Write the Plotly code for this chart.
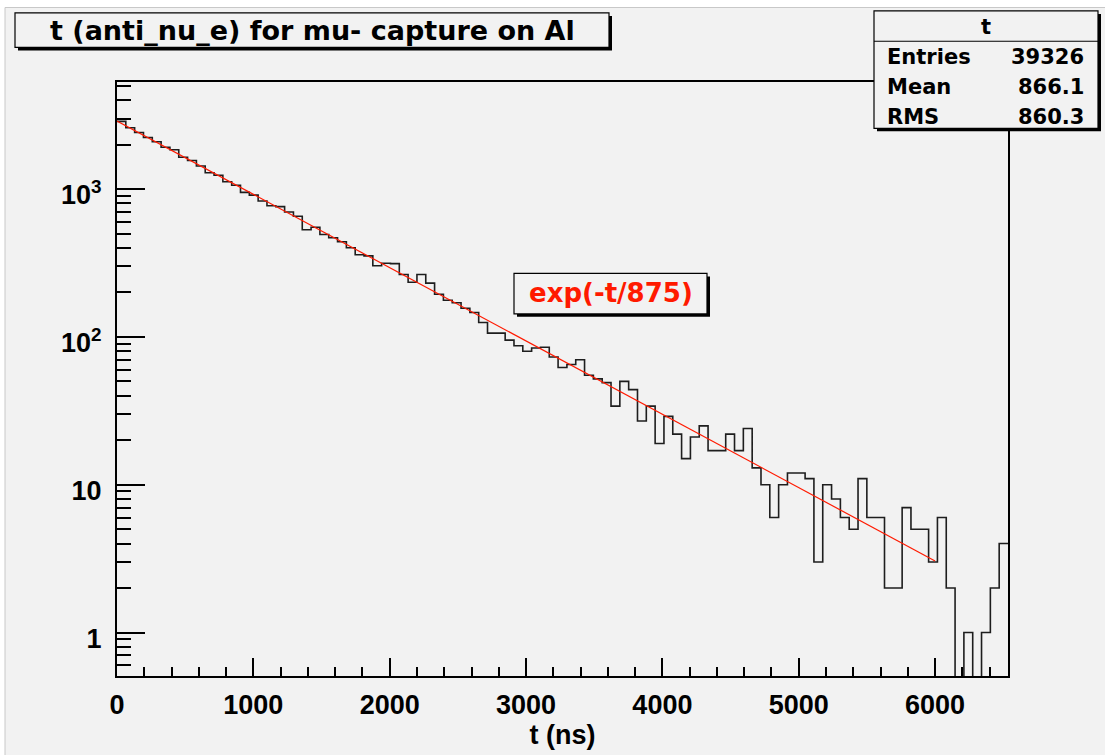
import plotly.graph_objects as go

# ---------------- data ----------------
BIN_WIDTH_NS = 64.7
counts = [2870, 2600, 2410, 2230, 2090, 1915, 1845, 1640, 1560, 1430,
          1290, 1240, 1120, 1060, 950, 910, 830, 770, 760, 700,
          655, 530, 552, 493, 468, 440, 401, 359, 353, 303,
          315, 313, 264, 234, 264, 231, 194, 177, 170, 156,
          146, 125, 106, 106, 95, 87, 80, 84, 85, 73,
          62, 65, 70, 55, 52, 49, 34, 50, 44, 27,
          34, 19, 29, 22, 15, 21, 25, 17, 17, 22,
          17, 24, 13, 10, 6, 10, 12, 12, 11, 3,
          10, 8, 6, 5, 11, 6, 6, 2, 2, 7,
          5, 5, 3, 6, 2, 0, 1, 0, 1, 2,
          4]
fit_t = [0, 6000]
fit_y = [2885, 3.05]

x_tick_vals = [0, 1000, 2000, 3000, 4000, 5000, 6000]
y_tick_vals = [1, 10, 100, 1000]
y_tick_text = ["1", "10", "10<sup>2</sup>", "10<sup>3</sup>"]

title_text = "t (anti_nu_e) for mu- capture on Al"
x_title = "t (ns)"
stats_title = "t"
stats_labels = ["Entries", "Mean", "RMS"]
stats_values = ["39326", "866.1", "860.3"]
fit_label = "exp(-t/875)"

# ---------------- geometry ----------------
W, H = 1105, 755
L, R, T, B = 117, 97, 82, 71
PW, PH = W - L - R, H - T - B


def px(x):
    return (x - L) / PW


def py(y):
    return (H - B - y) / PH


edges = [i * BIN_WIDTH_NS for i in range(len(counts) + 1)]
counts_plot = [c if c > 0 else 0.05 for c in counts]
step_y = counts_plot + [counts_plot[-1]]

minor_y = [v * 10 ** e for e in range(-1, 4) for v in range(2, 10)]
minor_y = [m for m in minor_y if 0.55 < m < 5300 and m not in (1, 10, 100, 1000)]

fig = go.Figure()
fig.add_trace(go.Scatter(x=edges, y=step_y, mode="lines", line_shape="hv",
                         line=dict(color="#1e1e1e", width=1.6),
                         hoverinfo="skip", showlegend=False))
fig.add_trace(go.Scatter(x=fit_t, y=fit_y, mode="lines",
                         line=dict(color="#ff1a00", width=1.2),
                         hoverinfo="skip", showlegend=False))

BOLD = dict(family="Liberation Sans, Arial, sans-serif", size=27, color="black", weight="bold")
PAVE = "DejaVu Sans, sans-serif"

fig.update_layout(
    width=W, height=H,
    margin=dict(l=L, r=R, t=T, b=B, pad=0),
    paper_bgcolor="#f2f2f2",
    plot_bgcolor="#f2f2f2",
    showlegend=False,
    xaxis=dict(range=[0, len(counts) * BIN_WIDTH_NS], showgrid=False, zeroline=False,
               showline=True, linecolor="black", linewidth=2, mirror=True,
               ticks="inside", ticklen=18, tickwidth=1.5, tickcolor="black",
               tickvals=x_tick_vals, ticktext=[str(v) for v in x_tick_vals],
               tickfont=BOLD, ticklabelstandoff=4,
               minor=dict(ticks="inside", ticklen=9, tickwidth=1.5, tickcolor="black", dtick=200),
               title=dict(text=x_title, font=BOLD, standoff=4)),
    yaxis=dict(type="log", range=[-0.294, 3.724], showgrid=False, zeroline=False,
               showline=True, linecolor="black", linewidth=2, mirror=True,
               ticks="inside", ticklen=28, tickwidth=1.5, tickcolor="black",
               tickvals=y_tick_vals, ticktext=y_tick_text,
               tickfont=BOLD, ticklabelstandoff=8, ticklabelshift=6,
               minor=dict(ticks="inside", ticklen=14, tickwidth=1.5, tickcolor="black",
                          tickmode="array", tickvals=minor_y)),
)

shapes = []
# white canvas outside the grey pad (top and left) and its thin border
shapes.append(dict(type="rect", xref="paper", yref="paper", x0=px(-20), x1=px(1200), y0=py(6), y1=py(-20),
                   fillcolor="white", line=dict(width=0), layer="below"))
shapes.append(dict(type="rect", xref="paper", yref="paper", x0=px(-20), x1=px(5), y0=py(800), y1=py(-20),
                   fillcolor="white", line=dict(width=0), layer="below"))
shapes.append(dict(type="line", xref="paper", yref="paper", x0=px(5), x1=px(1200), y0=py(6.5), y1=py(6.5),
                   line=dict(color="#c8c8c8", width=1), layer="below"))
shapes.append(dict(type="line", xref="paper", yref="paper", x0=px(5), x1=px(5), y0=py(6.5), y1=py(800),
                   line=dict(color="#c8c8c8", width=1), layer="below"))


def pave(x0, y0, x1, y1, sh=3):
    shapes.append(dict(type="rect", xref="paper", yref="paper", x0=px(x0 + sh), x1=px(x1 + sh),
                       y0=py(y1 + sh), y1=py(y0 + sh), fillcolor="black", line=dict(width=0), layer="above"))
    shapes.append(dict(type="rect", xref="paper", yref="paper", x0=px(x0), x1=px(x1),
                       y0=py(y1), y1=py(y0), fillcolor="#f2f2f2", line=dict(color="black", width=1.2),
                       layer="above"))


pave(15, 12, 609, 47)          # title
pave(874, 10, 1098, 129)       # stats
pave(514, 276, 707, 317)       # fit label
shapes.append(dict(type="line", xref="paper", yref="paper", x0=px(874), x1=px(1098), y0=py(40.7), y1=py(40.7),
                   line=dict(color="black", width=1.2), layer="above"))
fig.update_layout(shapes=shapes)

ann = []
ann.append(dict(text=title_text, x=px(312), y=py(30), xref="paper", yref="paper",
                xanchor="center", yanchor="middle", showarrow=False,
                font=dict(family=PAVE, size=27, color="black", weight="bold")))
ann.append(dict(text=stats_title, x=px(986), y=py(26), xref="paper", yref="paper",
                xanchor="center", yanchor="middle", showarrow=False,
                font=dict(family=PAVE, size=21, color="black", weight="bold")))
for i, (lab, val) in enumerate(zip(stats_labels, stats_values)):
    yy = 57 + 30 * i
    ann.append(dict(text=lab, x=px(885), y=py(yy), xref="paper", yref="paper",
                    xanchor="left", yanchor="middle", showarrow=False,
                    font=dict(family=PAVE, size=21, color="black", weight="bold")))
    ann.append(dict(text=val, x=px(1086), y=py(yy), xref="paper", yref="paper",
                    xanchor="right", yanchor="middle", showarrow=False,
                    font=dict(family=PAVE, size=21, color="black", weight="bold")))
ann.append(dict(text=fit_label, x=px(610.5), y=py(296), xref="paper", yref="paper",
                xanchor="center", yanchor="middle", showarrow=False,
                font=dict(family=PAVE, size=26, color="#ff1a00", weight="bold")))
fig.update_layout(annotations=ann)

fig.write_html("out.html")
